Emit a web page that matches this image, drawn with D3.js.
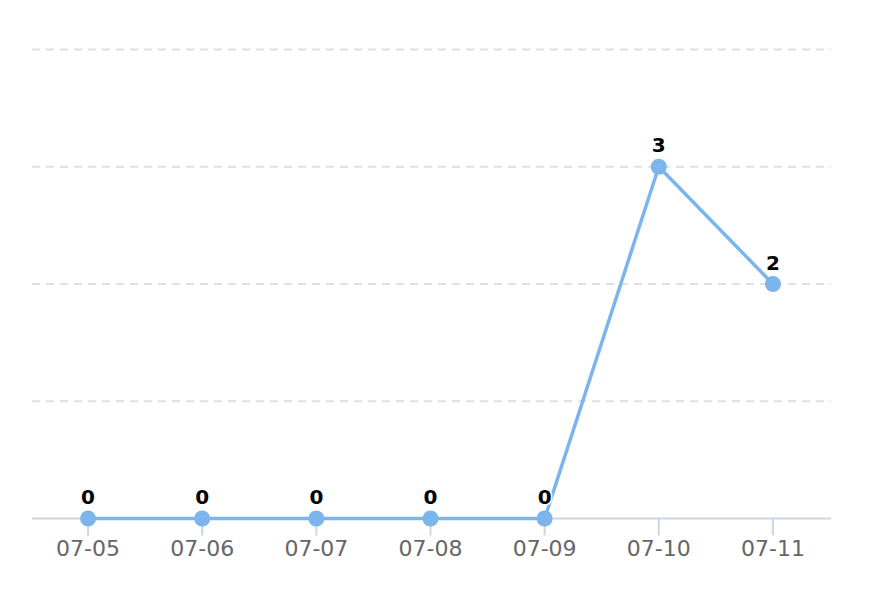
<!DOCTYPE html>
<html>
<head>
<meta charset="utf-8">
<script src="https://cdn.jsdelivr.net/npm/d3@7/dist/d3.min.js"></script>
<style>
  html, body { margin: 0; padding: 0; background: #fff; }
  svg { display: block; font-family: "DejaVu Sans", "Lucida Grande", sans-serif; }
</style>
</head>
<body>
<svg id="chart" width="872" height="596"></svg>
<script>
const categories = ["07-05", "07-06", "07-07", "07-08", "07-09", "07-10", "07-11"];
const values = [0, 0, 0, 0, 0, 3, 2];
const yTicks = [0, 1, 2, 3, 4];

const svg = d3.select("#chart");
const plot = { left: 31, right: 831, top: 49.5, bottom: 518.5 };

const x = d3.scaleBand().domain(categories).range([plot.left, plot.right - 1]);
const y = d3.scaleLinear().domain([0, 4]).range([plot.bottom, plot.top]);
const cx = d => x(d) + x.bandwidth() / 2;

// gridlines
svg.append("g").selectAll("line")
  .data(yTicks.filter(t => t > 0))
  .join("line")
  .attr("x1", 32).attr("x2", 831)
  .attr("y1", d => y(d)).attr("y2", d => y(d))
  .attr("stroke", "#e0e0e0").attr("stroke-width", 2)
  .attr("stroke-dasharray", "8,6");

// x axis
const xAxis = d3.axisBottom(x).tickSize(17).tickPadding(3);
const gx = svg.append("g").attr("transform", `translate(0,${plot.bottom})`).call(xAxis);
gx.attr("font-family", null).attr("font-size", null);
gx.select(".domain").remove();
gx.selectAll(".tick line").attr("stroke", "#ccd6eb").attr("stroke-width", 2);
gx.selectAll(".tick text")
  .attr("fill", "#666666")
  .attr("font-family", "DejaVu Sans")
  .attr("font-size", 22)
  .attr("dy", null)
  .attr("y", 37.5);
svg.append("line")
  .attr("x1", 32).attr("x2", 831)
  .attr("y1", plot.bottom).attr("y2", plot.bottom)
  .attr("stroke", "#ccd6eb").attr("stroke-width", 2);

// line
const line = d3.line().x((d, i) => cx(categories[i])).y(d => y(d));
svg.append("path")
  .datum(values)
  .attr("d", line)
  .attr("fill", "none")
  .attr("stroke", "#7cb5ec")
  .attr("stroke-width", 3.5)
  .attr("stroke-linejoin", "round");

// markers
svg.append("g").selectAll("circle")
  .data(values)
  .join("circle")
  .attr("cx", (d, i) => cx(categories[i]))
  .attr("cy", d => y(d))
  .attr("r", 8)
  .attr("fill", "#7cb5ec");

// data labels
svg.append("g").selectAll("text")
  .data(values)
  .join("text")
  .attr("x", (d, i) => cx(categories[i]))
  .attr("y", d => y(d) - 14.5)
  .attr("text-anchor", "middle")
  .attr("font-family", "DejaVu Sans")
  .attr("font-size", 20)
  .attr("font-weight", "bold")
  .attr("fill", "#000")
  .attr("stroke", "#fff")
  .attr("stroke-width", 3)
  .attr("paint-order", "stroke")
  .attr("stroke-linejoin", "round")
  .text(d => d);
</script>
</body>
</html>
